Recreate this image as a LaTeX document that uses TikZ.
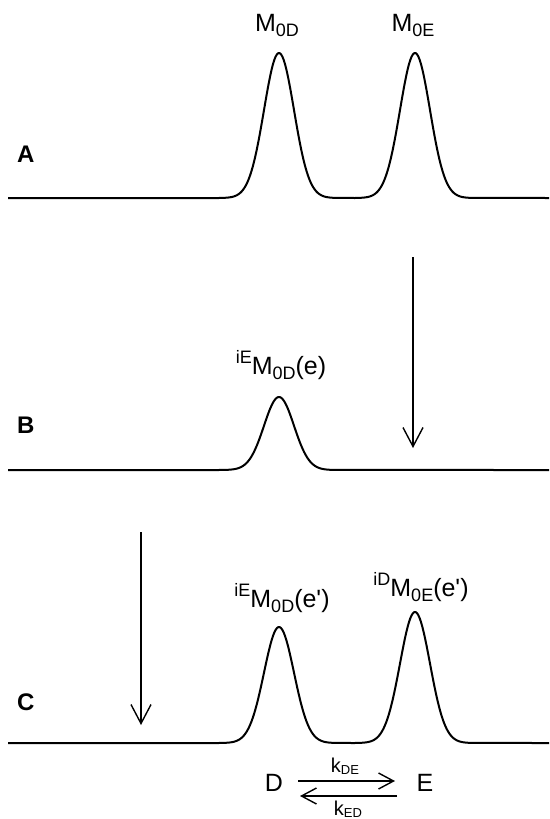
\documentclass[tikz,border=0pt]{standalone}
\usepackage{fontspec}
\setmainfont{Liberation Sans}[Ligatures=TeXOff]
\usetikzlibrary{arrows.meta}
\newcommand{\supsz}{\fontsize{18}{18}\selectfont}
\newcommand{\mainsz}{\fontsize{25}{25}\selectfont}
\newcommand{\Mlab}[3]{{\mainsz\raisebox{11pt}{\supsz #1}M\raisebox{-5pt}{\supsz #2}#3}}
\newcommand{\klab}[1]{{\fontsize{20}{20}\selectfont k\raisebox{-2pt}{\fontsize{13}{13}\selectfont #1}}}
\tikzset{
  curve/.style={line width=2pt, line join=round},
  varrow/.style={line width=1.4pt, -{Straight Barb[length=19pt,width=20pt,line width=1.4pt]}},
  rarrow/.style={line width=1.4pt, -{Straight Barb[length=15pt,width=16pt,line width=1.4pt]}},
  lab/.style={anchor=base, inner sep=0pt},
  panel/.style={anchor=base west, inner sep=0pt, font=\fontsize{24}{24}\selectfont\bfseries},
  big/.style={anchor=base, inner sep=0pt, font=\mainsz}
}
\begin{document}
\begin{tikzpicture}[x=1pt,y=-1pt]
\useasboundingbox (0,0) rectangle (549,819);
\fill[white] (0,0) rectangle (549,819);

% Panel A
\draw[curve] (8,198) -- (219,198)
  -- plot[domain=219:339,samples=90] (\x,{198-145*exp(-((\x-279)/15)^2/2)})
  -- (355,198)
  -- plot[domain=355:475,samples=90] (\x,{198-145*exp(-((\x-415)/15)^2/2)})
  -- (549,198);
\node[panel] (pA) at (17,162) {A};
\node[lab] (mA1) at (277,31) {\Mlab{}{0D}{}};
\node[lab] (mA2) at (413,31) {\Mlab{}{0E}{}};

% Panel B
\draw[curve] (8,470) -- (219,470)
  -- plot[domain=219:339,samples=90] (\x,{470-73*exp(-((\x-279)/15)^2/2)})
  -- (549,470);
\node[panel] (pB) at (17,433) {B};
\node[lab] (mB1) at (281,374) {\Mlab{iE}{0D}{(e)}};
\coordinate (b1) at (413,257);
\coordinate (b2) at (413,448);
\draw[varrow] (b1) -- (b2);

% Panel C
\draw[curve] (8,743) -- (219,743)
  -- plot[domain=219:339,samples=90] (\x,{743-116*exp(-((\x-279)/15)^2/2)})
  -- (355,743)
  -- plot[domain=355:475,samples=90] (\x,{743-131*exp(-((\x-415)/15)^2/2)})
  -- (549,743);
\node[panel] (pC) at (17,710) {C};
\node[lab] (mC1) at (282,607) {\Mlab{iE}{0D}{(e')}};
\node[lab] (mC2) at (421,596) {\Mlab{iD}{0E}{(e')}};
\coordinate (c1) at (141,532);
\coordinate (c2) at (141,725);
\draw[varrow] (c1) -- (c2);

% Equilibrium
\node[big] (D) at (274,791) {D};
\node[big] (E) at (425,791) {E};
\coordinate (r1) at (298,781);
\coordinate (r2) at (395,781);
\coordinate (r3) at (397,796);
\coordinate (r4) at (300,796);
\draw[rarrow] (r1) -- (r2);
\draw[rarrow] (r3) -- (r4);
\node[lab] (kDE) at (345,772) {\klab{DE}};
\node[lab] (kED) at (348,815) {\klab{ED}};
\end{tikzpicture}
\end{document}
